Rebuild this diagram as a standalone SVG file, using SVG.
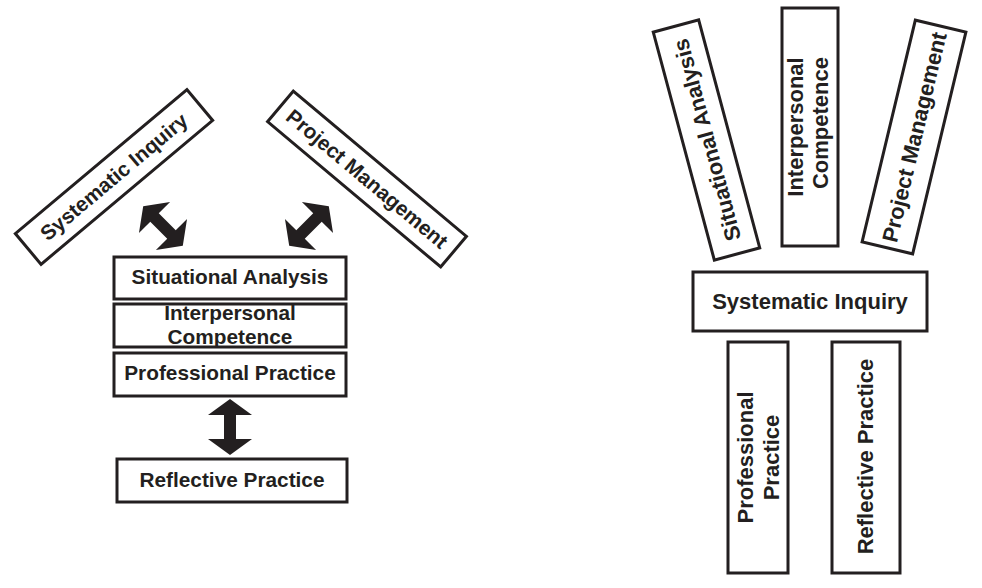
<svg xmlns="http://www.w3.org/2000/svg" width="982" height="588" viewBox="0 0 982 588">
<style>
.box{fill:#fff;stroke:#231f20;stroke-width:3}
.t{font-family:"Liberation Sans",Arial,sans-serif;font-weight:bold;fill:#231f20;text-anchor:middle}
.l{font-size:20.8px}
.r{font-size:22px}
.arr{fill:#231f20;stroke:none}
</style>
<defs>
<path id="dbl" d="M0,-28 L22,-12 L6,-12 L6,12 L22,12 L0,28 L-22,12 L-6,12 L-6,-12 L-22,-12 Z"/>
</defs>
<rect width="982" height="588" fill="#fff"/>

<!-- Left diagram -->
<g id="L-systematic" transform="translate(114,177) rotate(-40)">
<rect class="box" x="-112" y="-20" width="224" height="40"/>
<text class="t l" x="0" y="7">Systematic Inquiry</text>
</g>
<g id="L-project" transform="translate(367,179) rotate(40)">
<rect class="box" x="-113" y="-20" width="226" height="40"/>
<text class="t l" x="0" y="7">Project Management</text>
</g>
<g id="L-situational">
<rect class="box" x="114" y="257" width="232" height="42"/>
<text class="t l" x="230" y="284">Situational Analysis</text>
</g>
<g id="L-interpersonal">
<rect class="box" x="114" y="304" width="232" height="43"/>
<text class="t l" x="230" y="320">Interpersonal</text>
<text class="t l" x="230" y="344">Competence</text>
</g>
<g id="L-professional">
<rect class="box" x="114" y="353" width="232" height="43"/>
<text class="t l" x="230" y="380">Professional Practice</text>
</g>
<g id="L-reflective">
<rect class="box" x="117" y="459" width="230" height="43"/>
<text class="t l" x="232" y="487">Reflective Practice</text>
</g>
<g id="connectors">
<use href="#dbl" class="arr" transform="translate(163,226) rotate(-45)"/>
<use href="#dbl" class="arr" transform="translate(309,226) rotate(45)"/>
<use href="#dbl" class="arr" transform="translate(230,427)"/>
</g>

<!-- Right diagram -->
<g id="R-situational" transform="translate(706.5,140) rotate(-15)">
<rect class="box" x="-23.5" y="-118" width="47" height="236"/>
<text class="t r" transform="translate(8,0) rotate(-90)">Situational Analysis</text>
</g>
<g id="R-interpersonal">
<rect class="box" x="782" y="8" width="56" height="238"/>
<text class="t r" transform="translate(803,127) rotate(-90)">Interpersonal</text>
<text class="t r" transform="translate(828,123) rotate(-90)">Competence</text>
</g>
<g id="R-project" transform="translate(914,137) rotate(13.5)">
<rect class="box" x="-26" y="-114" width="52" height="228"/>
<text class="t r" transform="translate(8,0) rotate(-90)">Project Management</text>
</g>
<g id="R-systematic">
<rect class="box" x="693" y="272" width="234" height="59"/>
<text class="t r" x="810" y="309">Systematic Inquiry</text>
</g>
<g id="R-professional">
<rect class="box" x="728" y="342" width="60" height="231"/>
<text class="t r" transform="translate(753,457.5) rotate(-90)">Professional</text>
<text class="t r" transform="translate(779,457.5) rotate(-90)">Practice</text>
</g>
<g id="R-reflective">
<rect class="box" x="832" y="342" width="68" height="231"/>
<text class="t r" transform="translate(873,456.5) rotate(-90)">Reflective Practice</text>
</g>
</svg>
